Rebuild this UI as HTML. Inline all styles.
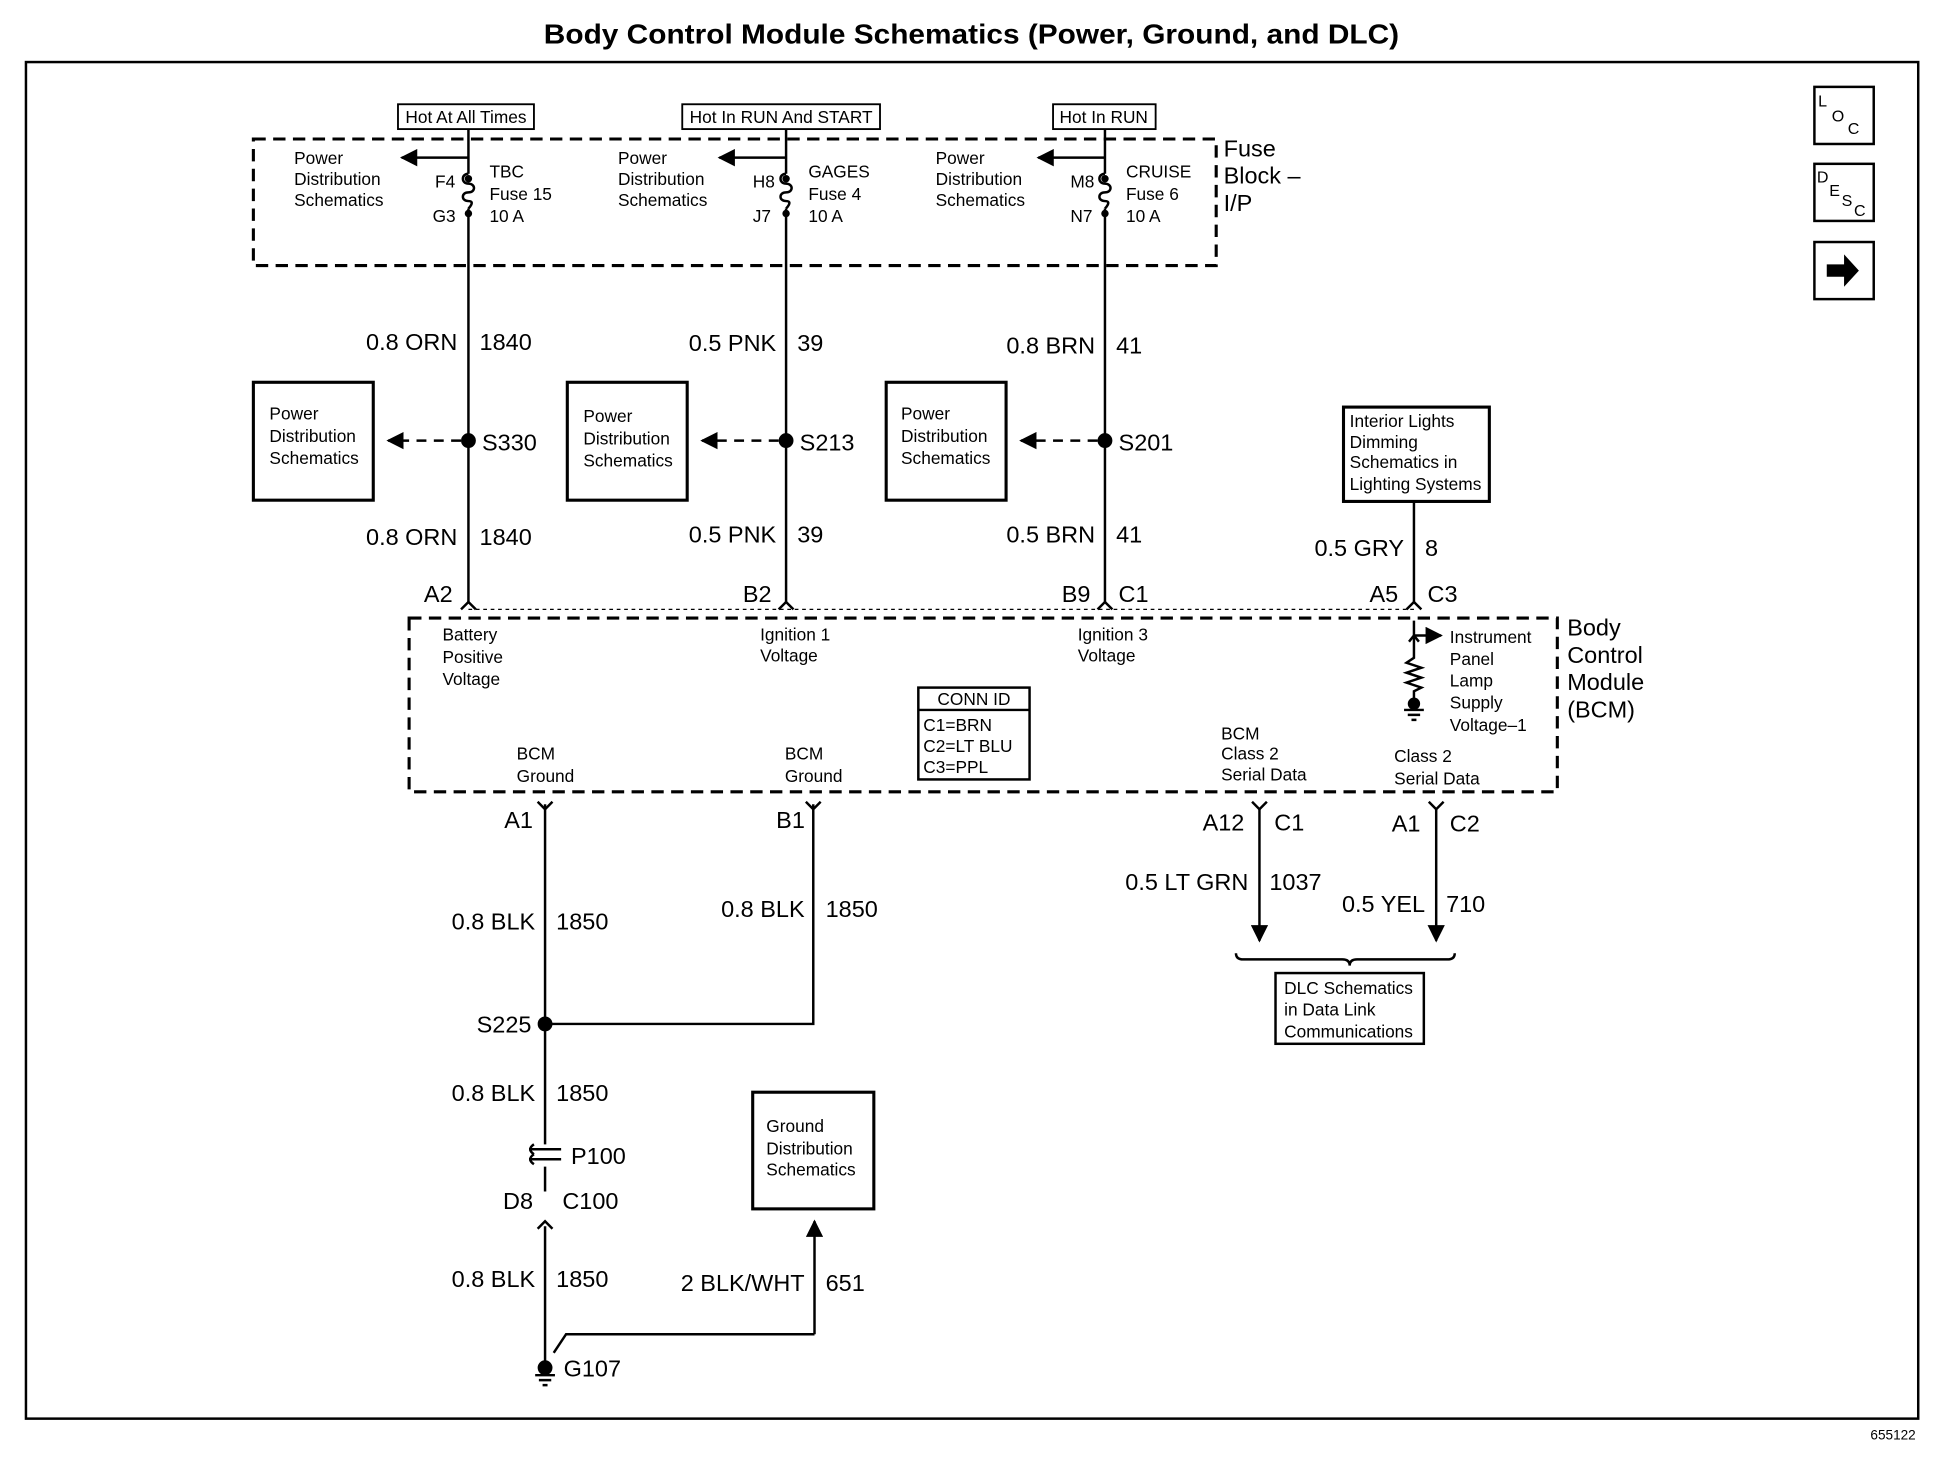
<!DOCTYPE html>
<html><head><meta charset="utf-8"><style>
html,body{margin:0;padding:0;background:#fff}
svg{display:block}
text{font-family:"Liberation Sans",sans-serif;fill:#000}
.s{font-size:14px}
.m{font-size:19px}
</style></head><body>
<svg width="1938" height="1472" viewBox="0 0 1568 1186" preserveAspectRatio="none">
<defs>
<marker id="ar" viewBox="0 0 10 10" refX="9" refY="5" markerWidth="7" markerHeight="7" orient="auto"><path d="M0,0L10,5L0,10z" fill="#000"/></marker>
</defs>
<text x="440" y="35" font-size="22" font-weight="bold" textLength="692" lengthAdjust="spacingAndGlyphs">Body Control Module Schematics (Power, Ground, and DLC)</text>
<rect x="21" y="50" width="1531" height="1093" fill="none" stroke="#000" stroke-width="2"/>
<text x="1550" y="1160" font-size="11" text-anchor="end">655122</text>
<g fill="none" stroke="#000" stroke-width="2">
<rect x="1468" y="70" width="48" height="46"/><rect x="1468" y="132" width="48" height="46"/><rect x="1468" y="195" width="48" height="46"/>
</g>
<text x="1471" y="86" font-size="13">L</text><text x="1482" y="98" font-size="13">O</text><text x="1495" y="108" font-size="13">C</text>
<text x="1470" y="147" font-size="13">D</text><text x="1480" y="158" font-size="13">E</text><text x="1490" y="166" font-size="13">S</text><text x="1500" y="174" font-size="13">C</text>
<path d="M1478,213h14v-8l12,13l-12,13v-8h-14z" fill="#000"/>
<rect x="205" y="112" width="779" height="102" fill="none" stroke="#000" stroke-width="2.5" stroke-dasharray="10,6"/>
<text x="990" y="126" class="m">Fuse</text><text x="990" y="148" class="m">Block –</text><text x="990" y="170" class="m">I/P</text>
<g fill="none" stroke="#000" stroke-width="1.5">
<rect x="322" y="84" width="110" height="20"/><rect x="552" y="84" width="160" height="20"/><rect x="852" y="84" width="83" height="20"/>
</g>
<text x="377" y="99" class="s" text-anchor="middle">Hot At All Times</text>
<text x="632" y="99" class="s" text-anchor="middle">Hot In RUN And START</text>
<text x="893" y="99" class="s" text-anchor="middle">Hot In RUN</text>
<g stroke="#000" stroke-width="2" fill="none">
<path d="M379,104V140 M379,168V485"/><path d="M379,140c-6,0 -6,8 0,8c6,0 6,7 0,7c-6,0 -6,7 0,7c6,0 0,6 0,6"/>
<path d="M636,104V140 M636,168V485"/><path d="M636,140c-6,0 -6,8 0,8c6,0 6,7 0,7c-6,0 -6,7 0,7c6,0 0,6 0,6"/>
<path d="M894,104V140 M894,168V485"/><path d="M894,140c-6,0 -6,8 0,8c6,0 6,7 0,7c-6,0 -6,7 0,7c6,0 0,6 0,6"/>
<path d="M379,127H325" marker-end="url(#ar)"/><path d="M636,127H582" marker-end="url(#ar)"/><path d="M894,127H840" marker-end="url(#ar)"/>
</g>
<g fill="#000"><circle cx="379" cy="144" r="3"/><circle cx="379" cy="172" r="3"/><circle cx="636" cy="144" r="3"/><circle cx="636" cy="172" r="3"/><circle cx="894" cy="144" r="3"/><circle cx="894" cy="172" r="3"/></g>
<g class="s">
<text x="238" y="132" class="s">Power</text><text x="238" y="149" class="s">Distribution</text><text x="238" y="166" class="s">Schematics</text>
<text x="500" y="132" class="s">Power</text><text x="500" y="149" class="s">Distribution</text><text x="500" y="166" class="s">Schematics</text>
<text x="757" y="132" class="s">Power</text><text x="757" y="149" class="s">Distribution</text><text x="757" y="166" class="s">Schematics</text>
<text x="352" y="151" class="s">F4</text><text x="350" y="179" class="s">G3</text>
<text x="396" y="143" class="s">TBC</text><text x="396" y="161" class="s">Fuse 15</text><text x="396" y="179" class="s">10 A</text>
<text x="609" y="151" class="s">H8</text><text x="609" y="179" class="s">J7</text>
<text x="654" y="143" class="s">GAGES</text><text x="654" y="161" class="s">Fuse 4</text><text x="654" y="179" class="s">10 A</text>
<text x="866" y="151" class="s">M8</text><text x="866" y="179" class="s">N7</text>
<text x="911" y="143" class="s">CRUISE</text><text x="911" y="161" class="s">Fuse 6</text><text x="911" y="179" class="s">10 A</text>
</g>
<g class="m">
<text x="370" y="282" text-anchor="end" class="m">0.8 ORN</text><text x="388" y="282" class="m">1840</text>
<text x="628" y="283" text-anchor="end" class="m">0.5 PNK</text><text x="645" y="283" class="m">39</text>
<text x="886" y="285" text-anchor="end" class="m">0.8 BRN</text><text x="903" y="285" class="m">41</text>
<text x="370" y="439" text-anchor="end" class="m">0.8 ORN</text><text x="388" y="439" class="m">1840</text>
<text x="628" y="437" text-anchor="end" class="m">0.5 PNK</text><text x="645" y="437" class="m">39</text>
<text x="886" y="437" text-anchor="end" class="m">0.5 BRN</text><text x="903" y="437" class="m">41</text>
<text x="390" y="363" class="m">S330</text><text x="647" y="363" class="m">S213</text><text x="905" y="363" class="m">S201</text>
<text x="343" y="485" class="m">A2</text><text x="601" y="485" class="m">B2</text><text x="859" y="485" class="m">B9</text><text x="905" y="485" class="m">C1</text>
<text x="1108" y="485" class="m">A5</text><text x="1155" y="485" class="m">C3</text>
<text x="1136" y="448" text-anchor="end" class="m">0.5 GRY</text><text x="1153" y="448" class="m">8</text>
</g>
<g fill="#000"><circle cx="379" cy="355" r="6"/><circle cx="636" cy="355" r="6"/><circle cx="894" cy="355" r="6"/><circle cx="441" cy="825" r="6"/></g>
<g stroke="#000" stroke-width="2" fill="none">
<path d="M373,355H314" stroke-dasharray="8,6" marker-end="url(#ar)"/>
<path d="M630,355H568" stroke-dasharray="8,6" marker-end="url(#ar)"/>
<path d="M888,355H826" stroke-dasharray="8,6" marker-end="url(#ar)"/>
<rect x="205" y="308" width="97" height="95" stroke-width="2.5"/>
<rect x="459" y="308" width="97" height="95" stroke-width="2.5"/>
<rect x="717" y="308" width="97" height="95" stroke-width="2.5"/>
<rect x="1087" y="328" width="118" height="76" stroke-width="2.5"/>
<path d="M1144,404V486"/>
<path d="M373,491l6,-6l6,6 M630,491l6,-6l6,6 M888,491l6,-6l6,6 M1138,491l6,-6l6,6"/>
</g>
<g class="s">
<text x="218" y="338" class="s">Power</text><text x="218" y="356" class="s">Distribution</text><text x="218" y="374" class="s">Schematics</text>
<text x="472" y="340" class="s">Power</text><text x="472" y="358" class="s">Distribution</text><text x="472" y="376" class="s">Schematics</text>
<text x="729" y="338" class="s">Power</text><text x="729" y="356" class="s">Distribution</text><text x="729" y="374" class="s">Schematics</text>
<text x="1092" y="344" class="s">Interior Lights</text><text x="1092" y="361" class="s">Dimming</text><text x="1092" y="377" class="s">Schematics in</text><text x="1092" y="395" class="s">Lighting Systems</text>
</g>
<rect x="331" y="498" width="929" height="140" fill="none" stroke="#000" stroke-width="2.5" stroke-dasharray="10,6"/>
<path d="M379,491H1144" stroke="#000" stroke-width="1" stroke-dasharray="3,3" fill="none"/>
<text x="1268" y="512" class="m">Body</text><text x="1268" y="534" class="m">Control</text><text x="1268" y="556" class="m">Module</text><text x="1268" y="578" class="m">(BCM)</text>
<g>
<text x="358" y="516" class="s">Battery</text><text x="358" y="534" class="s">Positive</text><text x="358" y="552" class="s">Voltage</text>
<text x="615" y="516" class="s">Ignition 1</text><text x="615" y="533" class="s">Voltage</text>
<text x="872" y="516" class="s">Ignition 3</text><text x="872" y="533" class="s">Voltage</text>
<text x="1173" y="518" class="s">Instrument</text><text x="1173" y="536" class="s">Panel</text><text x="1173" y="553" class="s">Lamp</text><text x="1173" y="571" class="s">Supply</text><text x="1173" y="589" class="s">Voltage–1</text>
<text x="418" y="612" class="s">BCM</text><text x="418" y="630" class="s">Ground</text>
<text x="635" y="612" class="s">BCM</text><text x="635" y="630" class="s">Ground</text>
<text x="988" y="596" class="s">BCM</text><text x="988" y="612" class="s">Class 2</text><text x="988" y="629" class="s">Serial Data</text>
<text x="1128" y="614" class="s">Class 2</text><text x="1128" y="632" class="s">Serial Data</text>
</g>
<g stroke="#000" stroke-width="2" fill="none">
<path d="M1144,500V530 l-6,4 l12,4 l-12,4 l12,4 l-12,4 l12,4 l-6,3 V566"/>
<path d="M1144,512H1166" marker-end="url(#ar)"/>
<path d="M1144,512l-4,5 M1144,512l4,5"/>
<path d="M1136,572h16 M1139,576h10 M1142,580h4"/>
<rect x="743" y="554" width="90" height="74"/>
<path d="M743,572H833"/>
</g>
<circle cx="1144" cy="567" r="5" fill="#000"/>
<text x="788" y="568" class="s" text-anchor="middle">CONN ID</text>
<text x="747" y="589" class="s">C1=BRN</text><text x="747" y="606" class="s">C2=LT BLU</text><text x="747" y="623" class="s">C3=PPL</text>
<g stroke="#000" stroke-width="2" fill="none">
<path d="M441,648V922 M441,940V960 M441,988V1100"/>
<path d="M658,648V825H441"/>
<path d="M435,646l6,6l6,-6 M652,646l6,6l6,-6 M1013,646l6,6l6,-6 M1156,646l6,6l6,-6"/>
<path d="M1019,652V758" marker-end="url(#ar)"/><path d="M1162,652V758" marker-end="url(#ar)"/>
<path d="M1000,768q0,5 6,5H1086q6,0 6,5q0,-5 6,-5H1171q6,0 6,-5"/>
<rect x="1032" y="784" width="120" height="57"/>
<rect x="609" y="880" width="98" height="94" stroke-width="2.5"/>
<path d="M659,1075V984" marker-end="url(#ar)"/>
<path d="M659,1075H458L448,1090"/>
<path d="M428,926h26 M428,934h26"/>
<path d="M435,990l6,-6l6,6"/>
<path d="M433,1108h16 M436,1112h10 M439,1116h4"/>
</g>
<path d="M432,922q-6,4 0,8 M432,930q-6,4 0,8" stroke="#000" stroke-width="2" fill="none"/>
<circle cx="441" cy="1102" r="6" fill="#000"/>
<g>
<text x="408" y="667" class="m">A1</text><text x="628" y="667" class="m">B1</text>
<text x="973" y="669" class="m">A12</text><text x="1031" y="669" class="m">C1</text>
<text x="1126" y="670" class="m">A1</text><text x="1173" y="670" class="m">C2</text>
<text x="1010" y="717" text-anchor="end" class="m">0.5 LT GRN</text><text x="1027" y="717" class="m">1037</text>
<text x="1153" y="735" text-anchor="end" class="m">0.5 YEL</text><text x="1170" y="735" class="m">710</text>
<text x="433" y="749" text-anchor="end" class="m">0.8 BLK</text><text x="450" y="749" class="m">1850</text>
<text x="651" y="739" text-anchor="end" class="m">0.8 BLK</text><text x="668" y="739" class="m">1850</text>
<text x="430" y="832" text-anchor="end" class="m">S225</text>
<text x="433" y="887" text-anchor="end" class="m">0.8 BLK</text><text x="450" y="887" class="m">1850</text>
<text x="462" y="938" class="m">P100</text>
<text x="407" y="974" class="m">D8</text><text x="455" y="974" class="m">C100</text>
<text x="433" y="1037" text-anchor="end" class="m">0.8 BLK</text><text x="450" y="1037" class="m">1850</text>
<text x="651" y="1040" text-anchor="end" class="m">2 BLK/WHT</text><text x="668" y="1040" class="m">651</text>
<text x="456" y="1109" class="m">G107</text>
<text x="1039" y="801" class="s">DLC Schematics</text><text x="1039" y="818" class="s">in Data Link</text><text x="1039" y="836" class="s">Communications</text>
<text x="620" y="912" class="s">Ground</text><text x="620" y="930" class="s">Distribution</text><text x="620" y="947" class="s">Schematics</text>
</g>
</svg>
</body></html>
